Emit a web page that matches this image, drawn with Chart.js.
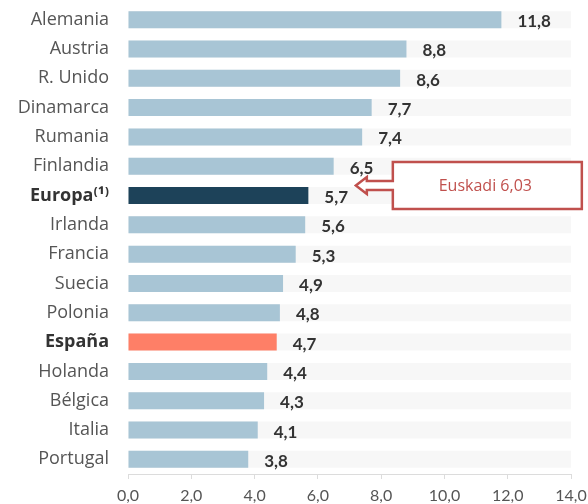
<!DOCTYPE html>
<html lang="es">
<head>
  <meta charset="UTF-8">
  <title>Euskadi 6,03</title>
  <script src="https://cdn.jsdelivr.net/npm/chart.js"></script>
  <style>
    body { margin: 0; background: #fff; }
  </style>
</head>
<body>
  <canvas id="chart" width="588" height="504"></canvas>

<script>
  const categories = ['Alemania', 'Austria', 'R. Unido', 'Dinamarca', 'Rumania', 'Finlandia', 'Europa⁽¹⁾',
    'Irlanda', 'Francia', 'Suecia', 'Polonia', 'España', 'Holanda', 'Bélgica', 'Italia', 'Portugal'];
  const values = [11.8, 8.8, 8.6, 7.7, 7.4, 6.5, 5.7, 5.6, 5.3, 4.9, 4.8, 4.7, 4.4, 4.3, 4.1, 3.8];
  const highlightEuropa = 'Europa⁽¹⁾';
  const highlightSpain = 'España';
  const axisMax = 14;
  const axisStep = 2;
  const calloutText = 'Euskadi 6,03';
  const calloutValue = 7.2;   // where the arrow tip sits on the value axis

  const fmt = v => v.toFixed(1).replace('.', ',');

  const barColors = categories.map(c =>
    c === highlightEuropa ? '#1d4259' : c === highlightSpain ? '#fe7f67' : '#a8c5d5');
  const isBold = c => c === highlightEuropa || c === highlightSpain;

  const labelsPlugin = {
    id: 'labelsPlugin',
    afterDatasetsDraw(chart) {
      const ctx = chart.ctx;
      const xs = chart.scales.x, ys = chart.scales.y;
      ctx.save();
      ctx.font = 'bold 17px Lato';
      ctx.fillStyle = '#333';
      ctx.textAlign = 'left';
      ctx.textBaseline = 'middle';
      values.forEach((v, i) => {
        ctx.fillText(fmt(v), xs.getPixelForValue(v) + 16, ys.getPixelForValue(i) + 2);
      });

      // callout box with left arrow
      const tipX = xs.getPixelForValue(calloutValue);
      const cy = ys.getPixelForValue(categories.indexOf(highlightEuropa)) - 10;
      const headX = tipX + 11, boxL = tipX + 37, boxR = boxL + 189;
      const top = cy - 23.5, bot = cy + 23.5;
      ctx.beginPath();
      ctx.moveTo(boxL, top);
      ctx.lineTo(boxR, top);
      ctx.lineTo(boxR, bot);
      ctx.lineTo(boxL, bot);
      ctx.lineTo(boxL, cy + 4.5);
      ctx.lineTo(headX, cy + 4.5);
      ctx.lineTo(headX, cy + 8.5);
      ctx.lineTo(tipX, cy);
      ctx.lineTo(headX, cy - 8.5);
      ctx.lineTo(headX, cy - 4.5);
      ctx.lineTo(boxL, cy - 4.5);
      ctx.closePath();
      ctx.fillStyle = '#fff';
      ctx.fill();
      ctx.lineWidth = 2.5;
      ctx.strokeStyle = '#c0504d';
      ctx.stroke();
      ctx.fillStyle = '#c0504d';
      ctx.font = '16px "Open Sans"';
      ctx.textAlign = 'center';
      ctx.fillText(calloutText, (boxL + boxR) / 2 - 2, cy + 1);
      ctx.restore();
    }
  };

  new Chart(document.getElementById('chart'), {
    type: 'bar',
    data: {
      labels: categories,
      datasets: [
        {
          data: categories.map(() => axisMax),
          backgroundColor: '#f7f7f7',
          grouped: false,
          order: 2,
          categoryPercentage: 1,
          barPercentage: 0.58
        },
        {
          data: values,
          backgroundColor: barColors,
          grouped: false,
          order: 1,
          categoryPercentage: 1,
          barPercentage: 0.58
        }
      ]
    },
    options: {
      indexAxis: 'y',
      responsive: false,
      animation: false,
      layout: { padding: { top: 5, right: 17, left: 0, bottom: 0 } },
      plugins: { legend: { display: false }, tooltip: { enabled: false } },
      scales: {
        x: {
          min: 0,
          max: axisMax,
          ticks: {
            stepSize: axisStep,
            callback: v => fmt(v),
            color: '#555',
            font: { family: 'Lato', size: 16 },
            padding: 7,
            maxRotation: 0
          },
          grid: { drawOnChartArea: false, drawTicks: true, tickLength: 5, color: '#dcdcdc' },
          border: { display: true, color: '#dcdcdc' },
          afterFit: s => { s.height = 30; s.paddingLeft = 0; s.paddingRight = 0; }
        },
        y: {
          ticks: {
            autoSkip: false,
            color: c => isBold(categories[c.index]) ? '#333' : '#555',
            font: c => ({ family: 'Open Sans', size: 18, weight: isBold(categories[c.index]) ? 'bold' : 'normal' }),
            padding: 11
          },
          grid: { display: false },
          border: { display: false },
          afterFit: s => { s.width = 128; s.paddingTop = 0; s.paddingBottom = 0; }
        }
      }
    },
    plugins: [labelsPlugin]
  });
</script>
</body>
</html>
